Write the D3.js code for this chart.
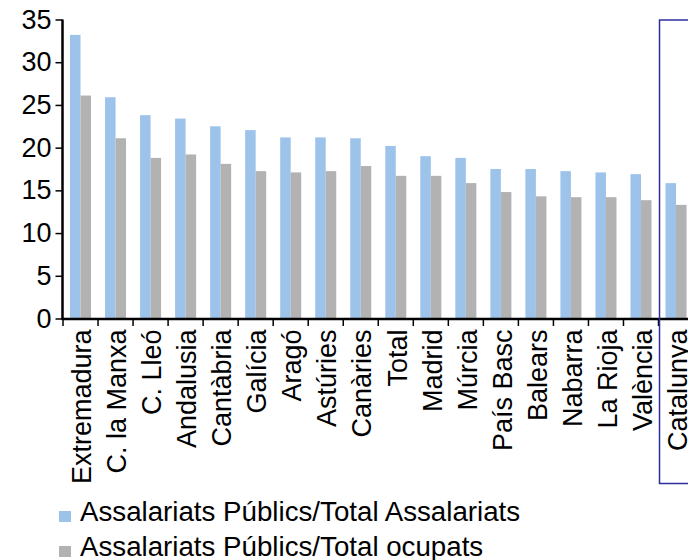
<!DOCTYPE html>
<html>
<head>
<meta charset="utf-8">
<script src="https://cdn.jsdelivr.net/npm/d3@7"></script>
<style>
  html, body { margin: 0; padding: 0; background: #fff; }
  svg { display: block; font-family: "Liberation Sans", Arial, sans-serif; }
</style>
</head>
<body>
<svg id="chart" width="688" height="560"></svg>
<script>
// Public-sector employees share by autonomous community (%)
const categories = ["Extremadura", "C. la Manxa", "C. Lleó", "Andalusia", "Cantàbria", "Galícia",
  "Aragó", "Astúries", "Canàries", "Total", "Madrid", "Múrcia", "País Basc", "Balears",
  "Nabarra", "La Rioja", "València", "Catalunya"];
const publicOverEmployees = [33.2, 25.9, 23.8, 23.4, 22.5, 22.05, 21.2, 21.2, 21.1, 20.2,
  19.0, 18.8, 17.5, 17.5, 17.25, 17.1, 16.9, 15.85];
const publicOverEmployed = [26.1, 21.1, 18.8, 19.2, 18.1, 17.25, 17.1, 17.25, 17.85, 16.7,
  16.7, 15.85, 14.8, 14.3, 14.2, 14.2, 13.85, 13.3];
const seriesNames = ["Assalariats Públics/Total Assalariats", "Assalariats Públics/Total ocupats"];
const seriesColors = ["#9dc3ea", "#b2b2b2"];
const yTicks = [0, 5, 10, 15, 20, 25, 30, 35];
const highlighted = "Catalunya";

const svg = d3.select("#chart");
const fontSize = 27;
const legendFontSize = 27.7;
const plotLeft = 63, plotTop = 19.5, plotBottom = 318.5;
const step = 35.03;
const plotRight = plotLeft + step * categories.length;

const x0 = d3.scaleBand().domain(categories).range([plotLeft, plotRight])
  .paddingInner(0.4).paddingOuter(0.2);
const x1 = d3.scaleBand().domain([0, 1]).range([0, x0.bandwidth()]);
const y = d3.scaleLinear().domain([0, 35]).range([plotBottom, plotTop]);
const values = [publicOverEmployees, publicOverEmployed];

// Bars
const groups = svg.append("g").selectAll("g")
  .data(categories)
  .join("g")
  .attr("transform", d => `translate(${x0(d)},0)`);
groups.selectAll("rect")
  .data((d, i) => values.map((s, k) => ({ k, v: s[i] })))
  .join("rect")
  .attr("x", d => x1(d.k))
  .attr("width", x1.bandwidth())
  .attr("y", d => y(d.v))
  .attr("height", d => y(0) - y(d.v))
  .attr("fill", d => seriesColors[d.k]);

// Y axis
const yAxis = d3.axisLeft(y).tickValues(yTicks).tickSize(7).tickPadding(4).tickFormat(d3.format("d"));
const gy = svg.append("g").attr("transform", `translate(${plotLeft - 0.5},0)`).call(yAxis);
gy.select(".domain").attr("stroke", "#000").attr("stroke-width", 2.5).attr("d", `M0,${plotTop}V${plotBottom}`);
gy.selectAll(".tick line").attr("stroke", "#000").attr("stroke-width", 1.5);
gy.selectAll(".tick text").attr("font-size", fontSize).attr("fill", "#000")
  .attr("font-family", "'Liberation Sans', Arial, sans-serif");

// X axis line with boundary ticks
const gx = svg.append("g");
gx.append("line")
  .attr("x1", plotLeft - 1.5).attr("x2", plotRight).attr("y1", plotBottom + 0.5).attr("y2", plotBottom + 0.5)
  .attr("stroke", "#000").attr("stroke-width", 2.5);
gx.selectAll("line.tk")
  .data(d3.range(categories.length + 1))
  .join("line")
  .attr("class", "tk")
  .attr("x1", i => plotLeft + step * i).attr("x2", i => plotLeft + step * i)
  .attr("y1", plotBottom).attr("y2", plotBottom + 7.5)
  .attr("stroke", "#000").attr("stroke-width", 1.5);

// Rotated category labels
gx.selectAll("text")
  .data(categories)
  .join("text")
  .attr("transform", d => `translate(${x0(d) + x0.bandwidth() / 2 + 1},${plotBottom + 11}) rotate(-90)`)
  .attr("text-anchor", "end")
  .attr("dy", "0.36em")
  .attr("font-size", fontSize)
  .attr("fill", "#000")
  .text(d => d);

// Frame around the highlighted community
const hx = x0(highlighted) - x0.step() * x0.paddingInner() / 2;
svg.append("rect")
  .attr("x", hx + 1).attr("y", plotTop + 0.5)
  .attr("width", x0.step() + 10).attr("height", 483 - plotTop)
  .attr("fill", "none").attr("stroke", "#2e2ea0").attr("stroke-width", 1.5);

// Legend
const legend = svg.append("g").selectAll("g")
  .data(seriesNames)
  .join("g")
  .attr("transform", (d, i) => `translate(59,${511 + i * 35})`);
legend.append("rect")
  .attr("width", 12).attr("height", 11)
  .attr("fill", (d, i) => seriesColors[i]);
legend.append("text")
  .attr("x", 21).attr("y", 10)
  .attr("font-size", legendFontSize)
  .attr("fill", "#000")
  .text(d => d);
</script>
</body>
</html>
